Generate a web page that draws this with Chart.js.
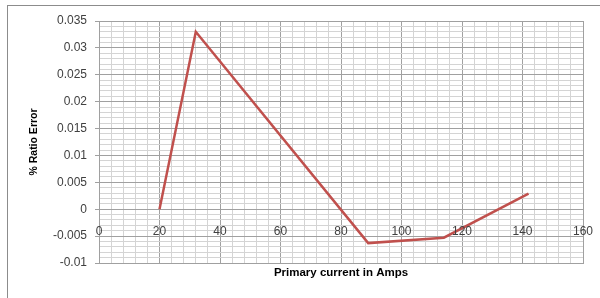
<!DOCTYPE html>
<html>
<head>
<meta charset="utf-8">
<script src="https://cdn.jsdelivr.net/npm/chart.js@4/dist/chart.umd.min.js"></script>
<style>
  html, body { margin: 0; padding: 0; background: #fff; }
  #wrap { width: 600px; height: 298px; }
</style>
</head>
<body>
<div id="wrap"><canvas id="ratioChart" width="600" height="298"></canvas></div>
<script>
// primary current (A) vs % ratio error
const currentAmps = [20, 32, 89, 114, 142];
const ratioError = [0, 0.033, -0.0063, -0.0053, 0.0029];
const xTickLabels = ['0', '20', '40', '60', '80', '100', '120', '140', '160'];

const isMajorY = v => Math.abs(v * 1000 / 5 - Math.round(v * 1000 / 5)) < 1e-6;
const isMajorX = v => Math.abs(v / 20 - Math.round(v / 20)) < 1e-6;

// outer frame of the chart object
const framePlugin = {
    id: 'frame',
    beforeDraw(chart) {
        const c = chart.ctx;
        c.save();
        c.strokeStyle = '#8c8c8c';
        c.lineWidth = 1;
        c.strokeRect(7.5, 5.5, 800, 400);
        c.restore();
    }
};

// x tick labels sit just under the zero line, like the Excel chart
const xLabelsPlugin = {
    id: 'xLabels',
    afterDraw(chart) {
        const xs = chart.scales.x;
        const ys = chart.scales.y;
        const c = chart.ctx;
        const y0 = ys.getPixelForValue(0);
        c.save();
        c.font = '12px "Liberation Sans", sans-serif';
        c.fillStyle = '#404040';
        c.textAlign = 'center';
        c.textBaseline = 'middle';
        xTickLabels.forEach(lbl => {
            c.fillText(lbl, xs.getPixelForValue(Number(lbl)), y0 + 22);
        });
        c.restore();
    }
};

const ctx = document.getElementById('ratioChart').getContext('2d');
new Chart(ctx, {
    type: 'line',
    data: {
        datasets: [{
            data: currentAmps.map((x, i) => ({ x: x, y: ratioError[i] })),
            borderColor: '#c0504d',
            borderWidth: 2.5,
            pointRadius: 0,
            tension: 0,
            fill: false
        }]
    },
    options: {
        responsive: false,
        animation: false,
        layout: { padding: { top: 21, right: 17, bottom: 0, left: 0 } },
        plugins: {
            legend: { display: false },
            tooltip: { enabled: false }
        },
        scales: {
            x: {
                type: 'linear',
                min: 0,
                max: 160,
                afterFit(scale) { scale.height = 35; },
                ticks: { stepSize: 4, autoSkip: false, display: false },
                grid: {
                    color: c => isMajorX(c.tick.value) ? '#a0a0a0' : '#d4d4d4',
                    drawTicks: false
                },
                border: { color: '#a0a0a0' },
                title: {
                    display: true,
                    text: 'Primary current in Amps',
                    color: '#000',
                    font: { family: '"Liberation Sans", sans-serif', size: 11.5, weight: 'bold' },
                    padding: { top: 0, bottom: 18 }
                }
            },
            y: {
                min: -0.01,
                max: 0.035,
                afterFit(scale) { scale.width = 99; },
                ticks: {
                    stepSize: 0.001,
                    autoSkip: false,
                    padding: 8,
                    color: '#404040',
                    font: { family: '"Liberation Sans", sans-serif', size: 12 },
                    callback: v => isMajorY(v) ? String(parseFloat(v.toFixed(3))) : ''
                },
                grid: {
                    color: c => isMajorY(c.tick.value) ? '#a0a0a0' : '#d4d4d4',
                    tickColor: c => isMajorY(c.tick.value) ? '#a0a0a0' : 'rgba(0,0,0,0)',
                    tickLength: 4
                },
                border: { color: '#a0a0a0' },
                title: {
                    display: true,
                    text: '% Ratio Error',
                    color: '#000',
                    font: { family: '"Liberation Sans", sans-serif', size: 10.5, weight: 'bold' },
                    padding: { top: 28, bottom: 0 }
                }
            }
        }
    },
    plugins: [framePlugin, xLabelsPlugin]
});
</script>
</body>
</html>
